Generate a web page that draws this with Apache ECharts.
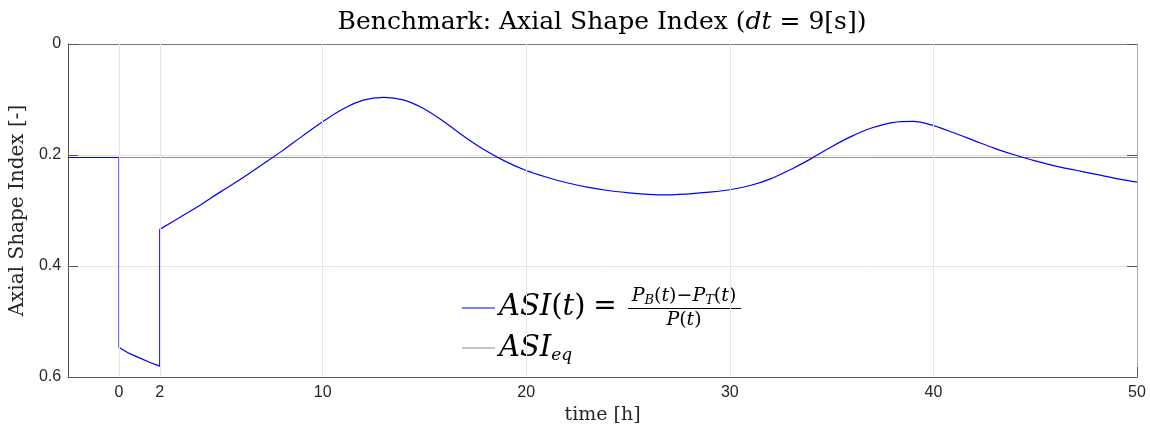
<!DOCTYPE html>
<html>
<head>
<meta charset="utf-8">
<script src="https://cdn.jsdelivr.net/npm/echarts@6/dist/echarts.min.js"></script>
<style>
  html, body { margin: 0; padding: 0; background: #fff; }
  #chart { width: 1150px; height: 430px; }
</style>
</head>
<body>
<div id="chart"></div>
<script>
// step part: steady state, power drop at t=0, recovery at t=2
var stepTime = [-2.5, 0, 0, 0.5, 1, 1.5, 2, 2];
var stepAsi = [0.2045, 0.2045, 0.547, 0.5575, 0.5655, 0.5735, 0.5805, 0.334];

// smooth part after t=2
var asiTime = [2, 3, 4, 5, 6, 7, 8, 9, 10, 11, 12, 13, 14, 15, 16, 17, 18, 19, 20,
    21, 22, 23, 24, 25, 26, 27, 28, 29, 30, 31, 32, 33, 34, 35, 36, 37, 38, 39, 40,
    41, 42, 43, 44, 45, 46, 47, 48, 49, 50];
var asiValue = [0.334, 0.312, 0.290, 0.266, 0.243, 0.218, 0.193, 0.166, 0.140, 0.117,
    0.101, 0.096, 0.101, 0.117, 0.141, 0.168, 0.192, 0.212, 0.228,
    0.240, 0.250, 0.258, 0.264, 0.268, 0.271, 0.272, 0.270, 0.267, 0.2626, 0.255,
    0.243, 0.226, 0.2065, 0.185, 0.166, 0.151, 0.1415, 0.1395, 0.147,
    0.160, 0.174, 0.188, 0.200, 0.2105, 0.2200, 0.2275, 0.235, 0.2425, 0.249];

var asiEq = 0.2045;
var xRange = [-2.5, 50];
var xTicks = [0, 2, 10, 20, 30, 40, 50];
var xGrid = [0, 2, 10, 20, 30, 40];

function pairs(xs, ys) {
    var out = [];
    for (var i = 0; i < xs.length; i++) out.push([xs[i], ys[i]]);
    return out;
}

var serif = 'DejaVu Serif';
var sans = 'Liberation Sans';
var axisCol = '#555';
var txtCol = '#262626';

var myChart = echarts.init(document.getElementById('chart'));

var gridMarks = [];
for (var i = 0; i < xGrid.length; i++) gridMarks.push({ xAxis: xGrid[i] });

var option = {
    animation: false,
    backgroundColor: '#fff',
    grid: { left: 68, right: 13, top: 44, bottom: 53 },
    xAxis: [{
        type: 'value', min: xRange[0], max: xRange[1],
        axisLine: { show: true, onZero: false, lineStyle: { color: axisCol, width: 1 } },
        axisTick: { show: true, inside: true, length: 10, customValues: xTicks, lineStyle: { color: axisCol } },
        axisLabel: { customValues: xTicks, fontFamily: sans, fontSize: 16, color: txtCol, margin: 8 },
        splitLine: { show: false },
        name: 'time [h]', nameLocation: 'middle', nameGap: 29,
        nameTextStyle: { fontFamily: serif, fontSize: 19, color: txtCol }
    }, {
        type: 'value', min: xRange[0], max: xRange[1], position: 'top',
        axisLine: { show: true, onZero: false, lineStyle: { color: '#777', width: 1 } },
        axisTick: { show: true, inside: true, length: 10, customValues: xGrid, lineStyle: { color: axisCol } },
        axisLabel: { show: false },
        splitLine: { show: false }
    }],
    yAxis: [{
        type: 'value', inverse: true, min: 0, max: 0.6, interval: 0.2,
        axisLine: { show: true, onZero: false, lineStyle: { color: axisCol, width: 1 } },
        axisTick: { show: true, inside: true, length: 10, lineStyle: { color: axisCol } },
        axisLabel: {
            fontFamily: sans, fontSize: 16, color: txtCol, margin: 7,
            formatter: function(v) { return v === 0 ? '0' : v.toFixed(1); }
        },
        splitLine: { show: true, lineStyle: { color: '#e6e6e6', width: 1 } },
        name: 'Axial Shape Index [-]', nameLocation: 'middle', nameGap: 39, nameRotate: 90,
        nameTextStyle: { fontFamily: serif, fontSize: 20, color: txtCol }
    }, {
        type: 'value', inverse: true, min: 0, max: 0.6, interval: 0.2, position: 'right',
        axisLine: { show: true, onZero: false, lineStyle: { color: '#aaa', width: 1 } },
        axisTick: { show: true, inside: true, length: 10, lineStyle: { color: axisCol } },
        axisLabel: { show: false },
        splitLine: { show: false }
    }],
    series: [{
        name: 'gridX', type: 'line', data: [], z: 1, silent: true,
        markLine: {
            silent: true, symbol: 'none', label: { show: false },
            lineStyle: { color: '#e6e6e6', type: 'solid', width: 1 },
            data: gridMarks
        }
    }, {
        name: 'ASI_eq', type: 'line', z: 2, showSymbol: false, silent: true,
        data: [[xRange[0], asiEq], [xRange[1], asiEq]],
        lineStyle: { color: '#8c8c8c', width: 1 }, itemStyle: { color: '#8c8c8c' }
    }, {
        name: 'ASI', type: 'line', z: 3, showSymbol: false, silent: true,
        data: pairs(stepTime, stepAsi),
        lineStyle: { color: '#0000ff', width: 1.2 }, itemStyle: { color: '#0000ff' }
    }, {
        name: 'ASI2', type: 'line', z: 3, showSymbol: false, silent: true, smooth: 0.35,
        data: pairs(asiTime, asiValue),
        lineStyle: { color: '#0000ff', width: 1.2 }, itemStyle: { color: '#0000ff' }
    }],
    graphic: [{
        type: 'text', x: 602, y: 22,
        style: {
            text: '{n|Benchmark: Axial Shape Index (}{i|dt}{n| = 9[s])}',
            align: 'center', verticalAlign: 'middle',
            rich: {
                n: { fontFamily: serif, fontSize: 25, color: '#000' },
                i: { fontFamily: serif, fontSize: 25, fontStyle: 'italic', color: '#000' }
            }
        }
    }, {
        type: 'line', shape: { x1: 462, y1: 308, x2: 495, y2: 308 },
        style: { stroke: '#0000ff', lineWidth: 1.2 }
    }, {
        type: 'text', x: 499, y: 307,
        style: {
            text: '{i|ASI}{n|(}{i|t}{n|)}',
            verticalAlign: 'middle',
            rich: {
                n: { fontFamily: serif, fontSize: 29, color: '#000' },
                i: { fontFamily: serif, fontSize: 29, fontStyle: 'italic', color: '#000' }
            }
        }
    }, {
        type: 'text', x: 605, y: 307,
        style: {
            text: '=', align: 'center', verticalAlign: 'middle',
            fontFamily: serif, fontSize: 28, fill: '#000'
        }
    }, {
        type: 'text', x: 684, y: 296,
        style: {
            text: '{i|P}{s|B}{n|(}{i|t}{n|)\u2212}{i|P}{s|T}{n|(}{i|t}{n|)}',
            align: 'center', verticalAlign: 'middle',
            rich: {
                n: { fontFamily: serif, fontSize: 19, lineHeight: 22, color: '#000' },
                i: { fontFamily: serif, fontSize: 19, lineHeight: 22, fontStyle: 'italic', color: '#000' },
                s: { fontFamily: serif, fontSize: 13, lineHeight: 13, fontStyle: 'italic', verticalAlign: 'bottom', color: '#000' }
            }
        }
    }, {
        type: 'line', shape: { x1: 628, y1: 308.5, x2: 741, y2: 308.5 },
        style: { stroke: '#000', lineWidth: 1 }
    }, {
        type: 'text', x: 684, y: 320,
        style: {
            text: '{i|P}{n|(}{i|t}{n|)}',
            align: 'center', verticalAlign: 'middle',
            rich: {
                n: { fontFamily: serif, fontSize: 19, color: '#000' },
                i: { fontFamily: serif, fontSize: 19, fontStyle: 'italic', color: '#000' }
            }
        }
    }, {
        type: 'line', shape: { x1: 462, y1: 348, x2: 495, y2: 348 },
        style: { stroke: '#8c8c8c', lineWidth: 1 }
    }, {
        type: 'text', x: 499, y: 348,
        style: {
            text: '{i|ASI}{s|eq}',
            verticalAlign: 'middle',
            rich: {
                i: { fontFamily: serif, fontSize: 29, lineHeight: 32, fontStyle: 'italic', color: '#000' },
                s: { fontFamily: serif, fontSize: 17, lineHeight: 17, fontStyle: 'italic', verticalAlign: 'bottom', color: '#000' }
            }
        }
    }]
};

myChart.setOption(option);
</script>
</body>
</html>
